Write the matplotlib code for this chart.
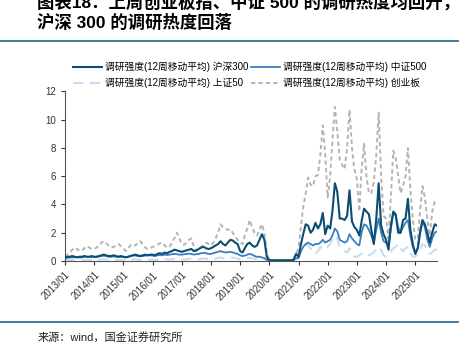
import numpy as np
import pandas as pd
import matplotlib
matplotlib.use('Agg')
import matplotlib.pyplot as plt
import matplotlib.dates as mdates

plt.rcParams['font.family'] = ['Liberation Sans', 'Noto Sans CJK SC']

# ---------------- données (mensuelles, 2013/01 -> 2025/10) ----------------
hs300 = [
    0.25, 0.3, 0.3, 0.35, 0.3, 0.25, 0.3, 0.3, 0.35, 0.3, 0.3, 0.35,
    0.3, 0.3, 0.35, 0.4, 0.45, 0.4, 0.35, 0.35, 0.4, 0.35, 0.3, 0.35,
    0.3, 0.25, 0.3, 0.35, 0.4, 0.45, 0.4, 0.35, 0.4, 0.45, 0.4, 0.45,
    0.45, 0.4, 0.5, 0.55, 0.5, 0.6, 0.55, 0.65, 0.7, 0.8, 0.75, 0.7,
    0.65, 0.7, 0.75, 0.8, 0.85, 0.7, 0.75, 0.85, 0.95, 1.0, 0.9, 0.85,
    0.9, 1.0, 1.1, 1.2, 1.4, 1.2, 1.1, 1.3, 1.5, 1.45, 1.3, 1.2,
    0.7, 0.6, 0.9, 1.2, 1.3, 1.1, 1.0, 1.1, 1.5, 1.9, 1.5, 0.3,
    0.05, 0.05, 0.05, 0.05, 0.05, 0.05, 0.05, 0.05, 0.05, 0.05, 0.1, 0.5,
    0.3, 1.2, 1.9, 2.6, 2.5, 2.0, 2.2, 2.7, 2.3, 2.6, 3.4, 1.9,
    2.5, 2.3, 3.5, 5.5, 4.9, 3.0, 3.0, 2.9, 3.2, 5.0, 2.8, 2.4,
    2.2, 1.8, 2.8, 3.7, 3.5, 3.3, 2.2, 1.2, 3.0, 5.5, 2.5, 1.9,
    1.5, 0.8, 2.5, 3.5, 3.3, 2.0, 2.0, 2.9, 3.0, 4.4, 2.2, 1.2,
    0.5, 0.9, 2.0, 2.9, 2.6, 2.0, 1.3, 2.0, 2.6, 2.5,
]
zz500 = [
    0.2, 0.22, 0.25, 0.25, 0.3, 0.28, 0.25, 0.25, 0.3, 0.3, 0.28, 0.3,
    0.28, 0.3, 0.32, 0.35, 0.38, 0.35, 0.3, 0.3, 0.33, 0.3, 0.28, 0.3,
    0.3, 0.28, 0.3, 0.35, 0.4, 0.38, 0.35, 0.33, 0.35, 0.38, 0.4, 0.4,
    0.38, 0.35, 0.4, 0.42, 0.4, 0.45, 0.42, 0.45, 0.48, 0.5, 0.48, 0.45,
    0.45, 0.48, 0.5, 0.52, 0.5, 0.45, 0.48, 0.5, 0.55, 0.58, 0.55, 0.5,
    0.5, 0.55, 0.6, 0.65, 0.7, 0.65, 0.6, 0.62, 0.65, 0.6, 0.55, 0.5,
    0.4, 0.35, 0.38, 0.45, 0.5, 0.45, 0.35, 0.3, 0.3, 0.25, 0.2, 0.08,
    0.03, 0.03, 0.03, 0.03, 0.03, 0.03, 0.03, 0.03, 0.03, 0.03, 0.05, 0.2,
    0.2, 0.7, 1.0, 1.2, 1.3, 1.2, 1.1, 1.2, 1.2, 1.3, 1.5, 1.3,
    1.4, 1.5, 1.8, 2.3, 2.1, 1.5, 1.4, 1.3, 1.4, 1.9, 1.6, 1.4,
    1.2, 1.1, 2.0, 2.6, 2.5, 2.2, 1.8, 1.3, 2.2, 3.0, 2.0, 1.4,
    1.3, 1.1, 2.2, 3.4, 3.2, 2.4, 2.0, 2.4, 2.7, 2.9, 1.8, 1.0,
    0.6, 0.9, 1.9, 2.8, 2.4, 1.5, 1.0, 1.6, 2.0, 2.1,
]
sz50 = [
    0.05, 0.05, 0.06, 0.08, 0.1, 0.08, 0.06, 0.05, 0.06, 0.08, 0.07, 0.06,
    0.05, 0.06, 0.08, 0.1, 0.12, 0.1, 0.08, 0.06, 0.07, 0.08, 0.07, 0.06,
    0.05, 0.05, 0.07, 0.09, 0.1, 0.12, 0.1, 0.08, 0.08, 0.1, 0.1, 0.09,
    0.08, 0.07, 0.09, 0.1, 0.12, 0.14, 0.12, 0.1, 0.12, 0.15, 0.14, 0.12,
    0.1, 0.1, 0.12, 0.15, 0.18, 0.15, 0.12, 0.12, 0.15, 0.18, 0.16, 0.14,
    0.12, 0.14, 0.18, 0.22, 0.25, 0.2, 0.18, 0.2, 0.22, 0.25, 0.2, 0.18,
    0.12, 0.1, 0.15, 0.2, 0.22, 0.18, 0.15, 0.15, 0.2, 0.22, 0.15, 0.05,
    0.02, 0.02, 0.02, 0.02, 0.02, 0.02, 0.02, 0.02, 0.02, 0.02, 0.03, 0.1,
    0.3, 0.7, 1.0, 1.2, 1.1, 0.9, 0.6, 0.5, 0.7, 1.0, 0.9, 0.8,
    1.0, 1.2, 1.5, 1.8, 1.6, 1.0, 0.8, 0.7, 0.6, 0.9, 0.5, 0.3,
    0.3, 0.4, 0.5, 0.6, 0.5, 0.4, 0.5, 0.6, 0.8, 1.0, 0.8, 0.4,
    0.3, 0.4, 0.7, 0.9, 1.0, 1.2, 0.9, 0.7, 0.9, 1.0, 0.6, 0.3,
    0.3, 0.5, 0.8, 1.2, 1.1, 0.8, 0.5, 0.6, 0.8, 0.8,
]
cyb = [
    0.3, 0.45, 0.6, 0.8, 0.95, 0.85, 0.7, 0.75, 0.9, 1.05, 0.95, 0.85,
    0.85, 0.95, 1.1, 1.3, 1.4, 1.25, 1.1, 0.95, 1.0, 1.1, 1.2, 1.05,
    0.9, 0.7, 0.9, 1.1, 1.2, 1.1, 1.3, 1.4, 1.2, 0.95, 0.85, 0.9,
    1.0, 1.05, 1.15, 1.25, 1.3, 1.1, 0.95, 1.0, 1.3, 1.6, 2.0, 1.6,
    1.2, 1.15, 1.3, 1.5, 1.6, 1.0, 0.7, 0.85, 1.0, 1.15, 1.3, 1.2,
    1.1, 1.3, 1.6, 2.0, 2.6, 2.4, 2.3, 2.2, 2.25, 2.0, 1.7, 1.5,
    1.3, 1.2, 1.8, 2.3, 2.9, 2.4, 2.0, 1.8, 2.2, 2.6, 2.0, 0.6,
    0.05, 0.05, 0.04, 0.04, 0.03, 0.03, 0.03, 0.04, 0.04, 0.05, 0.1, 0.5,
    0.9, 2.5, 3.8, 4.8, 5.9, 5.4, 5.3, 6.0, 6.1, 7.5, 9.6, 7.5,
    4.5, 6.0, 8.5, 10.9, 9.2, 7.2, 6.8, 6.5, 8.0, 10.7, 8.0, 6.5,
    5.8, 3.5, 6.5, 8.3, 6.0, 4.8, 4.8, 5.6, 7.5, 10.5, 6.0, 3.2,
    3.0, 1.6, 4.5, 7.8, 7.3, 6.0, 4.8, 5.3, 6.0, 8.0, 5.0, 3.0,
    1.5, 1.6, 3.5, 5.3, 4.5, 3.0, 1.8, 3.5, 4.2, 4.3,
]
dates = pd.date_range('2013-01-01', periods=len(hs300), freq='MS')
ticks = pd.date_range('2013-01-01', '2025-01-01', freq='YS')

label = '调研强度(12周移动平均) '

# ---------------- figure ----------------
fig = plt.figure(figsize=(4.71, 3.45), dpi=100)
ax = fig.add_axes([0.138, 0.2435, 0.79, 0.4915])

ax.plot(dates, cyb, color='#b4b4b4', lw=1.4, ls=(0, (2.2, 1.6)),
        label=label + '创业板', zorder=1)
ax.plot(dates, sz50, color='#c8ddf0', lw=1.5, ls=(0, (5, 3)),
        label=label + '上证50', zorder=2)
ax.plot(dates, zz500, color='#3b7fc0', lw=1.3, label=label + '中证500', zorder=3)
ax.plot(dates, hs300, color='#0c4e72', lw=1.5, label=label + '沪深300', zorder=4)

ax.set_xlim(dates[0], dates[-1])
ax.set_ylim(0, 12)
ax.set_yticks(range(0, 13, 2))
ax.set_xticks(ticks)
ax.xaxis.set_major_formatter(mdates.DateFormatter('%Y/%m'))
plt.setp(ax.get_xticklabels(), rotation=45, ha='right', rotation_mode='anchor')
ax.tick_params(labelsize=7, length=3, width=0.8, colors='#333333')
for s in ['top', 'right']:
    ax.spines[s].set_visible(False)
for s in ['left', 'bottom']:
    ax.spines[s].set_color('#555555')
    ax.spines[s].set_linewidth(0.8)

# légende dans l'ordre de l'original
h, l = ax.get_legend_handles_labels()
order = [3, 1, 2, 0]
fig.legend([h[i] for i in order], [l[i] for i in order], ncol=2,
           loc='center', bbox_to_anchor=(0.53, 0.783), frameon=False,
           fontsize=7, handlelength=3.0, handletextpad=0.3,
           columnspacing=0.2, labelspacing=0.6)

# titre et filets
fig.text(0.079, 1 - 2 / 345, '图表18：上周创业板指、中证 500 的调研热度均回升，',
         fontsize=12.5, fontweight='bold', va='center', ha='left')
fig.text(0.079, 1 - 22 / 345, '沪深 300 的调研热度回落',
         fontsize=12.5, fontweight='bold', va='center', ha='left')
fig.add_artist(plt.Line2D([0, 458 / 471], [1 - 41 / 345] * 2,
                          color='#2f6f99', lw=1.3))
fig.add_artist(plt.Line2D([0, 458 / 471], [1 - 322 / 345] * 2,
                          color='#2f6f99', lw=1.3))
fig.text(0.079, 1 - 337 / 345, '来源：wind，国金证券研究所',
         fontsize=8, va='center', ha='left', color='#222222')

fig.savefig('out.png', dpi=100)
